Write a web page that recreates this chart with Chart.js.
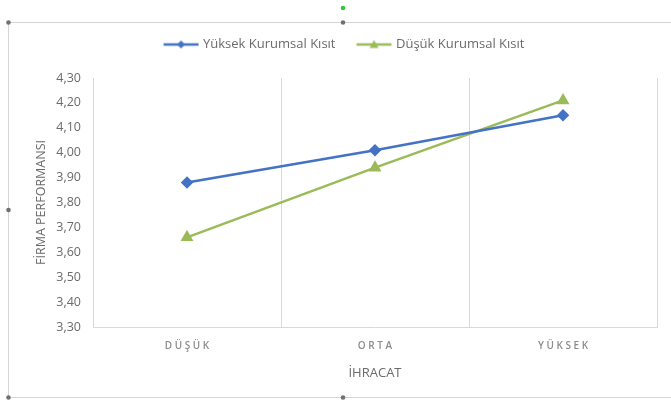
<!DOCTYPE html>
<html>
<head>
<meta charset="utf-8">
<script src="https://cdn.jsdelivr.net/npm/chart.js@4/dist/chart.umd.min.js"></script>
<style>
html,body{margin:0;padding:0;background:#fff;}
#wrap{width:671px;height:403px;position:relative;}
</style>
</head>
<body>
<div id="wrap"><canvas id="c" width="671" height="403"></canvas></div>
<script>
const categories = ['DÜŞÜK', 'ORTA', 'YÜKSEK'];
const seriesNames = ['Yüksek Kurumsal Kısıt', 'Düşük Kurumsal Kısıt'];
const yuksekKisit = [3.88, 4.01, 4.15];
const dusukKisit = [3.66, 3.94, 4.21];
const yMin = 3.3, yMax = 4.3, yStep = 0.1;
const yTitle = 'FİRMA PERFORMANSI';
const xTitle = 'İHRACAT';

const BLUE = '#4472c4';
const GREEN = '#9bbb59';
const TXT = '#6b6b6b';
const TICK_X = '#8c8c8c';
const GRID = '#d9d9d9';
const LEG_BOX = 30;

function legendIcon(color, style) {
  // canvas is centred on the legend box; the visible icon is shifted right so it
  // ends right before the label text
  const cv = document.createElement('canvas');
  cv.width = 70; cv.height = 12;
  const g = cv.getContext('2d');
  const a = LEG_BOX / 2 + 2, b = a + 35, m = (a + b) / 2;
  g.strokeStyle = color; g.lineWidth = 2.5;
  g.beginPath(); g.moveTo(a, 6); g.lineTo(b, 6); g.stroke();
  g.fillStyle = color;
  g.beginPath();
  if (style === 'diamond') {
    g.moveTo(m, 2); g.lineTo(m + 4, 6); g.lineTo(m, 10); g.lineTo(m - 4, 6);
  } else {
    g.moveTo(m, 1.5); g.lineTo(m + 4.5, 9.5); g.lineTo(m - 4.5, 9.5);
  }
  g.closePath(); g.fill();
  return cv;
}
const icons = [legendIcon(BLUE, 'diamond'), legendIcon(GREEN, 'triangle')];

const framePlugin = {
  id: 'frame',
  beforeDraw(chart) {
    const ctx = chart.ctx;
    ctx.save();
    ctx.strokeStyle = '#d4d4d4';
    ctx.lineWidth = 1;
    ctx.beginPath();
    ctx.moveTo(8.5, 22.5); ctx.lineTo(671, 22.5);
    ctx.moveTo(8.5, 22.5); ctx.lineTo(8.5, 397.5);
    ctx.moveTo(8.5, 397.5); ctx.lineTo(671, 397.5);
    ctx.stroke();
    ctx.fillStyle = '#707070';
    [[8.5,22.5],[343,22.5],[8.5,210],[8.5,397.5],[343,397.5]].forEach(p => {
      ctx.beginPath(); ctx.arc(p[0], p[1], 2.3, 0, Math.PI*2); ctx.fill();
    });
    ctx.fillStyle = '#2ecc40';
    ctx.beginPath(); ctx.arc(343, 8, 2.3, 0, Math.PI*2); ctx.fill();
    ctx.restore();
  }
};

const LEG_TOP = 14;
const legendSpace = {
  id: 'legendSpace',
  beforeInit(chart) {
    const lg = chart.legend;
    if (!lg) return;
    const orig = lg.fit;
    lg.fit = function() {
      orig.bind(lg)();
      this.height = 78 - LEG_TOP;
    };
  }
};

const spaced = s => s.split('').join(' ');

new Chart(document.getElementById('c'), {
  type: 'line',
  data: {
    labels: categories,
    datasets: [
      {
        label: seriesNames[0], data: yuksekKisit,
        borderColor: BLUE, backgroundColor: BLUE, borderWidth: 2.5,
        pointStyle: 'rectRot', pointRadius: 4.5, pointHoverRadius: 4.5,
        tension: 0
      },
      {
        label: seriesNames[1], data: dusukKisit,
        borderColor: GREEN, backgroundColor: GREEN, borderWidth: 2.5,
        pointStyle: 'triangle', pointRadius: 5, pointHoverRadius: 5,
        tension: 0
      }
    ]
  },
  options: {
    responsive: false,
    animation: false,
    events: [],
    layout: { padding: { top: LEG_TOP, left: 34, right: 14, bottom: 20 } },
    plugins: {
      tooltip: { enabled: false },
      legend: {
        position: 'top',
        labels: {
          usePointStyle: true,
          pointStyleWidth: LEG_BOX,
          padding: 24,
          color: TXT,
          font: { family: 'Open Sans', size: 13 },
          generateLabels(chart) {
            return chart.data.datasets.map((d, i) => ({
              text: d.label, pointStyle: icons[i], fillStyle: d.borderColor,
              strokeStyle: d.borderColor, lineWidth: 0, hidden: false,
              datasetIndex: i, fontColor: TXT
            }));
          }
        }
      }
    },
    scales: {
      x: {
        offset: true,
        grid: { display: true, offset: true, color: GRID, drawTicks: false, lineWidth: 1 },
        border: { display: true, color: GRID },
        ticks: {
          padding: 13, color: TICK_X,
          font: { family: 'Open Sans', size: 10, weight: '600' },
          callback(v, i) { return spaced(categories[i]); }
        },
        title: {
          display: true, text: xTitle, color: TXT,
          font: { family: 'Open Sans', size: 13 },
          padding: { top: 0, bottom: 2 }
        },
        afterFit(s) { s.height = 403 - 20 - 327; }
      },
      y: {
        min: yMin, max: yMax,
        grid: { display: false, drawTicks: false },
        border: { display: true, color: GRID },
        ticks: {
          stepSize: yStep, padding: 12, color: TXT,
          font: { family: 'Open Sans', size: 12.5 },
          callback(v) { return v.toFixed(2).replace('.', ','); }
        },
        title: {
          display: true, text: yTitle, color: TXT,
          font: { family: 'Open Sans', size: 12.5 },
          padding: { top: 0, bottom: 0 }
        },
        afterFit(s) { s.width = 93 - 34; }
      }
    }
  },
  plugins: [framePlugin, legendSpace]
});
</script>
</body>
</html>
